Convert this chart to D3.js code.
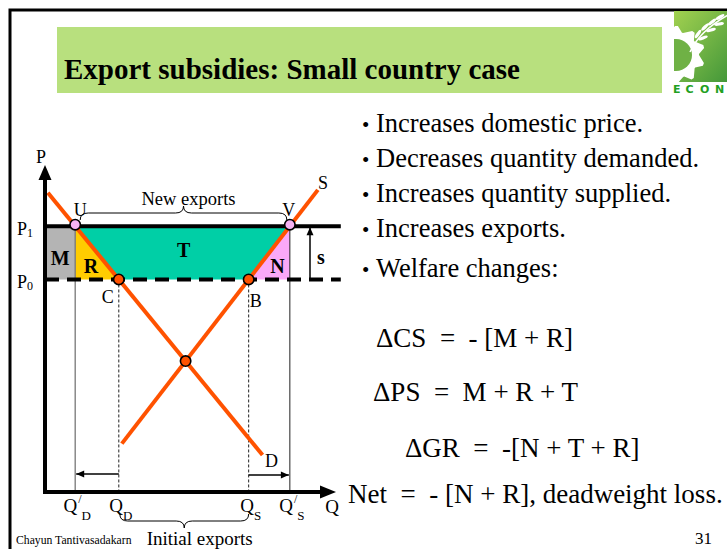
<!DOCTYPE html>
<html><head><meta charset="utf-8">
<script src="https://cdn.jsdelivr.net/npm/d3@7"></script>
<style>
body{margin:0;background:#fff}
svg{display:block}
text{font-family:"Liberation Serif","Times New Roman",serif;fill:#000}
</style>
</head><body>
<svg id="c" width="727" height="549"></svg>
<script>
// ---- data (Q, P in diagram units) ----
const demandLine = [[1, 91.5], [75, 11.3]];
const supplyLine = [[26.5, 14.8], [94.1, 92.4]];
const worldPrice = 65;      // P0
const subsidyPrice = 81.3;  // P1 = P0 + s
const priceLabels = [{base: "P", sub: "0", p: worldPrice}, {base: "P", sub: "1", p: subsidyPrice}];
const areaLabels = ["M", "R", "T", "N"];
const pointLabels = ["U", "V", "C", "B"];
const bullets = ["Increases domestic price.", "Decreases quantity demanded.", "Increases quantity supplied.", "Increases exports.", "Welfare changes:"];
const equations = ["\u0394CS  =  - [M + R]", "\u0394PS  =  M + R + T", "\u0394GR  =  -[N + T + R]", "Net  =  - [N + R], deadweight loss."];
const titleText = "Export subsidies: Small country case";
const author = "Chayun Tantivasadakarn";
const pageNo = "31";

// ---- helpers ----
const svg = d3.select("#c");
const x = d3.scaleLinear().domain([0, 100]).range([45, 335]);
const y = d3.scaleLinear().domain([0, 100]).range([492, 165]);
function lineFn(pts) {
  const [[q1, p1], [q2, p2]] = pts;
  const b = (p2 - p1) / (q2 - q1);
  return {pAt: q => p1 + b * (q - q1), qAt: p => q1 + (p - p1) / b, b, q1, p1};
}
const dem = lineFn(demandLine), sup = lineFn(supplyLine);
const qD1 = dem.qAt(subsidyPrice), qD0 = dem.qAt(worldPrice);
const qS0 = sup.qAt(worldPrice), qS1 = sup.qAt(subsidyPrice);
const qE = (sup.p1 - sup.b * sup.q1 - dem.p1 + dem.b * dem.q1) / (dem.b - sup.b);
const pE = dem.pAt(qE);
const orange = "#ff5200";

// ---- frame ----
svg.append("rect").attr("x", 10).attr("y", 10).attr("width", 900).attr("height", 900)
  .attr("fill", "none").attr("stroke", "#000").attr("stroke-width", 3);

// title box
svg.append("rect").attr("x", 57).attr("y", 27).attr("width", 605).attr("height", 66).attr("fill", "#b8e07e");
svg.append("text").attr("x", 64).attr("y", 79).attr("font-size", 29).attr("font-weight", "bold").text(titleText);

// logo
const defs = svg.append("defs");
const lg = defs.append("linearGradient").attr("id", "lg").attr("x1", 0).attr("y1", 0).attr("x2", 1).attr("y2", 1);
lg.append("stop").attr("offset", 0).attr("stop-color", "#a2d150");
lg.append("stop").attr("offset", 1).attr("stop-color", "#3e9438");
defs.append("clipPath").attr("id", "lc").append("rect").attr("x", 674).attr("y", 11).attr("width", 60).attr("height", 71);
const logo = svg.append("g").attr("clip-path", "url(#lc)");
logo.append("rect").attr("x", 674).attr("y", 11).attr("width", 60).attr("height", 71).attr("fill", "url(#lg)");
{
  const cx = 676, cy = 55, r1 = 23, r2 = 29, n = 10;
  let d = "";
  for (let i = 0; i < n; i++) {
    const a0 = (i / n) * 2 * Math.PI, a1 = a0 + 0.28, a2 = a0 + 0.38, a3 = a0 + 0.58;
    const pt = (r, a) => [cx + r * Math.cos(a), cy + r * Math.sin(a)];
    [[r1, a0], [r2, a1], [r2, a2], [r1, a3]].forEach(([r, a], k) => { const p = pt(r, a); d += (i === 0 && k === 0 ? "M" : "L") + p[0].toFixed(1) + "," + p[1].toFixed(1); });
  }
  d += "Z";
  logo.append("path").attr("d", d).attr("fill", "#fff");
  logo.append("circle").attr("cx", cx).attr("cy", cy).attr("r", 16).attr("fill", "#6fb145");
  logo.append("path").attr("d", "M690,52 Q700,30 730,14").attr("fill", "none").attr("stroke", "#fff").attr("stroke-width", 1.5);
  const leaves = [[698, 34, -55], [705, 27, -45], [712, 22, -38], [720, 17, -30], [703, 38, -20], [711, 30, -15], [719, 24, -10]];
  leaves.forEach(([lx, ly, a]) => logo.append("ellipse").attr("cx", lx).attr("cy", ly).attr("rx", 5).attr("ry", 1.6)
    .attr("transform", `rotate(${a},${lx},${ly})`).attr("fill", "#fff"));
}
svg.append("text").attr("x", "673 685.5 700 715").attr("y", 93).attr("font-size", 11).attr("font-weight", "bold")
  .style("font-family", "DejaVu Sans, sans-serif").style("fill", "#22a022").text("ECON");

// ---- areas ----
const poly = pts => "M" + pts.map(([q, p]) => x(q) + "," + y(p)).join("L") + "Z";
svg.append("path").attr("d", poly([[0, worldPrice], [0, subsidyPrice], [qD1, subsidyPrice], [qD1, worldPrice]])).attr("fill", "#b4b4b4");
svg.append("path").attr("d", poly([[qD1, subsidyPrice], [qD0, worldPrice], [qD1, worldPrice]])).attr("fill", "#ffcc00");
svg.append("path").attr("d", poly([[qD1, subsidyPrice], [qS1, subsidyPrice], [qS0, worldPrice], [qD0, worldPrice]])).attr("fill", "#00cfa6");
svg.append("path").attr("d", poly([[qS1, subsidyPrice], [qS1, worldPrice], [qS0, worldPrice]])).attr("fill", "#faa8f8");

// guide lines
svg.append("line").attr("x1", x(qD1)).attr("x2", x(qD1)).attr("y1", y(subsidyPrice)).attr("y2", y(0)).attr("stroke", "#777").attr("stroke-width", 1.3);
svg.append("line").attr("x1", x(qS1)).attr("x2", x(qS1)).attr("y1", y(subsidyPrice)).attr("y2", y(0)).attr("stroke", "#222").attr("stroke-width", 1);
svg.append("line").attr("x1", x(qD0)).attr("x2", x(qD0)).attr("y1", y(worldPrice)).attr("y2", y(0)).attr("stroke", "#222").attr("stroke-width", 1).attr("stroke-dasharray", "3,2");
svg.append("line").attr("x1", x(qS0)).attr("x2", x(qS0)).attr("y1", y(worldPrice)).attr("y2", y(0)).attr("stroke", "#222").attr("stroke-width", 1).attr("stroke-dasharray", "3,2");

// price lines
svg.append("line").attr("x1", x(0)).attr("x2", x(102)).attr("y1", y(subsidyPrice)).attr("y2", y(subsidyPrice)).attr("stroke", "#000").attr("stroke-width", 4);
svg.append("line").attr("x1", x(0)).attr("x2", x(102)).attr("y1", y(worldPrice)).attr("y2", y(worldPrice)).attr("stroke", "#000").attr("stroke-width", 4).attr("stroke-dasharray", "14,8");

// demand & supply
const lineGen = d3.line().x(d => x(d[0])).y(d => y(d[1]));
svg.append("path").attr("d", lineGen(demandLine)).attr("stroke", orange).attr("stroke-width", 4).attr("fill", "none");
svg.append("path").attr("d", lineGen(supplyLine)).attr("stroke", orange).attr("stroke-width", 4).attr("fill", "none");

// axes
svg.append("line").attr("x1", x(0)).attr("x2", x(0)).attr("y1", y(0) + 2).attr("y2", 176).attr("stroke", "#000").attr("stroke-width", 4);
svg.append("line").attr("x1", x(0) - 2).attr("x2", 322).attr("y1", y(0)).attr("y2", y(0)).attr("stroke", "#000").attr("stroke-width", 4);
svg.append("path").attr("d", `M${x(0)},165L${x(0) + 6.5},180L${x(0) - 6.5},180Z`).attr("fill", "#000");
svg.append("path").attr("d", `M336,${y(0)}L320,${y(0) - 6.5}L320,${y(0) + 6.5}Z`).attr("fill", "#000");

// points
const pts = [[qD1, subsidyPrice, "#f6b2f3"], [qS1, subsidyPrice, "#f6b2f3"], [qD0, worldPrice, orange], [qS0, worldPrice, orange], [qE, pE, orange]];
pts.forEach(([q, p, c]) => svg.append("circle").attr("cx", x(q)).attr("cy", y(p) - (p === subsidyPrice ? 1.5 : 0)).attr("r", 5.2)
  .attr("fill", c).attr("stroke", "#000").attr("stroke-width", 1.6));

// arrows
function arrow(x1, y1, x2, y2) {
  svg.append("line").attr("x1", x1).attr("y1", y1).attr("x2", x2).attr("y2", y2).attr("stroke", "#000").attr("stroke-width", 1.5);
  const a = Math.atan2(y2 - y1, x2 - x1), L = 8, W = 3.5;
  const bx = x2 - L * Math.cos(a), by = y2 - L * Math.sin(a);
  svg.append("path").attr("d", `M${x2},${y2}L${bx - W * Math.sin(a)},${by + W * Math.cos(a)}L${bx + W * Math.sin(a)},${by - W * Math.cos(a)}Z`).attr("fill", "#000");
}
arrow(x(qD0), y(5.5), x(qD1) + 1, y(5.5));
arrow(x(qS0), y(5.2), x(qS1) - 1, y(5.2));
arrow(310, y(worldPrice), 310, y(subsidyPrice) + 1);

// braces
function hbrace(x1, x2, yEnd, yLine, yTip) {
  const xm = (x1 + x2) / 2, r = 8;
  const d = `M${x1},${yEnd}Q${x1},${yLine} ${x1 + r},${yLine}L${xm - r},${yLine}Q${xm},${yLine} ${xm},${yTip}` +
    `Q${xm},${yLine} ${xm + r},${yLine}L${x2 - r},${yLine}Q${x2},${yLine} ${x2},${yEnd}`;
  svg.append("path").attr("d", d).attr("fill", "none").attr("stroke", "#000").attr("stroke-width", 1);
}
hbrace(x(qD1) + 5, x(qS1) - 3, 220, 213, 206);
hbrace(x(qD0) + 1, x(qS0), 514, 521, 528);
svg.append("text").attr("x", (x(qD1) + x(qS1)) / 2 + 6).attr("y", 205).attr("text-anchor", "middle").attr("font-size", 18.5).text("New exports");
svg.append("text").attr("x", (x(qD0) + x(qS0)) / 2 + 16).attr("y", 545).attr("text-anchor", "middle").attr("font-size", 19).text("Initial exports");

// area labels
const areaPos = [[(0 + qD1) / 2, (worldPrice + subsidyPrice) / 2 - 1.5], [qD1 + (qD0 - qD1) * 0.36, worldPrice + 4], [(qD0 + qS0) / 2, (worldPrice + subsidyPrice) / 2 + 1], [qS0 + (qS1 - qS0) * 0.7, worldPrice + 4]];
areaLabels.forEach((t, i) => svg.append("text").attr("x", x(areaPos[i][0])).attr("y", y(areaPos[i][1]) + 7).attr("text-anchor", "middle")
  .attr("font-size", 20).attr("font-weight", "bold").text(t));
svg.append("text").attr("x", 321).attr("y", 264).attr("text-anchor", "middle").attr("font-size", 20).attr("font-weight", "bold").text("s");

// point labels
const plPos = [[x(qD1) + 5, y(subsidyPrice) - 10], [x(qS1) - 1, y(subsidyPrice) - 10], [x(qD0) - 11, y(worldPrice) + 24], [x(qS0) + 7, y(worldPrice) + 28]];
pointLabels.forEach((t, i) => svg.append("text").attr("x", plPos[i][0]).attr("y", plPos[i][1]).attr("text-anchor", "middle").attr("font-size", 18).text(t));
svg.append("text").attr("x", x(supplyLine[1][0]) + 5).attr("y", y(supplyLine[1][1]) - 1).attr("text-anchor", "middle").attr("font-size", 18).text("S");
svg.append("text").attr("x", x(demandLine[1][0]) + 9).attr("y", y(demandLine[1][1]) + 12).attr("text-anchor", "middle").attr("font-size", 18).text("D");

// axis labels
svg.append("text").attr("x", 41).attr("y", 163).attr("text-anchor", "middle").attr("font-size", 18).text("P");
priceLabels.forEach(l => {
  const t = svg.append("text").attr("x", 17).attr("y", y(l.p) + 9).attr("font-size", 18);
  t.append("tspan").text(l.base);
  t.append("tspan").attr("font-size", 12).attr("dy", 2).text(l.sub);
});
const qLabels = [{q: qD1, prime: true, sub: "D"}, {q: qD0, prime: false, sub: "D"}, {q: qS0, prime: false, sub: "S"}, {q: qS1, prime: true, sub: "S"}];
qLabels.forEach(l => {
  const t = svg.append("text").attr("x", x(l.q) + 2).attr("y", 512).attr("text-anchor", "middle").attr("font-size", 19);
  t.append("tspan").text("Q");
  if (l.prime) t.append("tspan").attr("font-size", 12).attr("dy", -9).attr("dx", 1).text("/");
  t.append("tspan").attr("font-size", 13).attr("dy", l.prime ? 17 : 8).text(l.sub);
});
svg.append("text").attr("x", 332).attr("y", 513).attr("text-anchor", "middle").attr("font-size", 19).text("Q");

// right side text
const bulletY = [132, 167, 202, 237, 277];
bullets.forEach((b, i) => {
  svg.append("text").attr("x", 362).attr("y", bulletY[i]).attr("font-size", 21).text("\u2022");
  svg.append("text").attr("x", 376).attr("y", bulletY[i]).attr("font-size", 26.5).text(b);
});
const eqX = [376, 373, 405, 348], eqY = [347, 401, 457, 503];
equations.forEach((e, i) => svg.append("text").attr("x", eqX[i]).attr("y", eqY[i]).attr("font-size", 27).style("white-space", "pre").text(e));

svg.append("text").attr("x", 16).attr("y", 544).attr("font-size", 11.7).text(author);
svg.append("text").attr("x", 712).attr("y", 544).attr("text-anchor", "end").attr("font-size", 17).text(pageNo);
</script>
</body></html>
